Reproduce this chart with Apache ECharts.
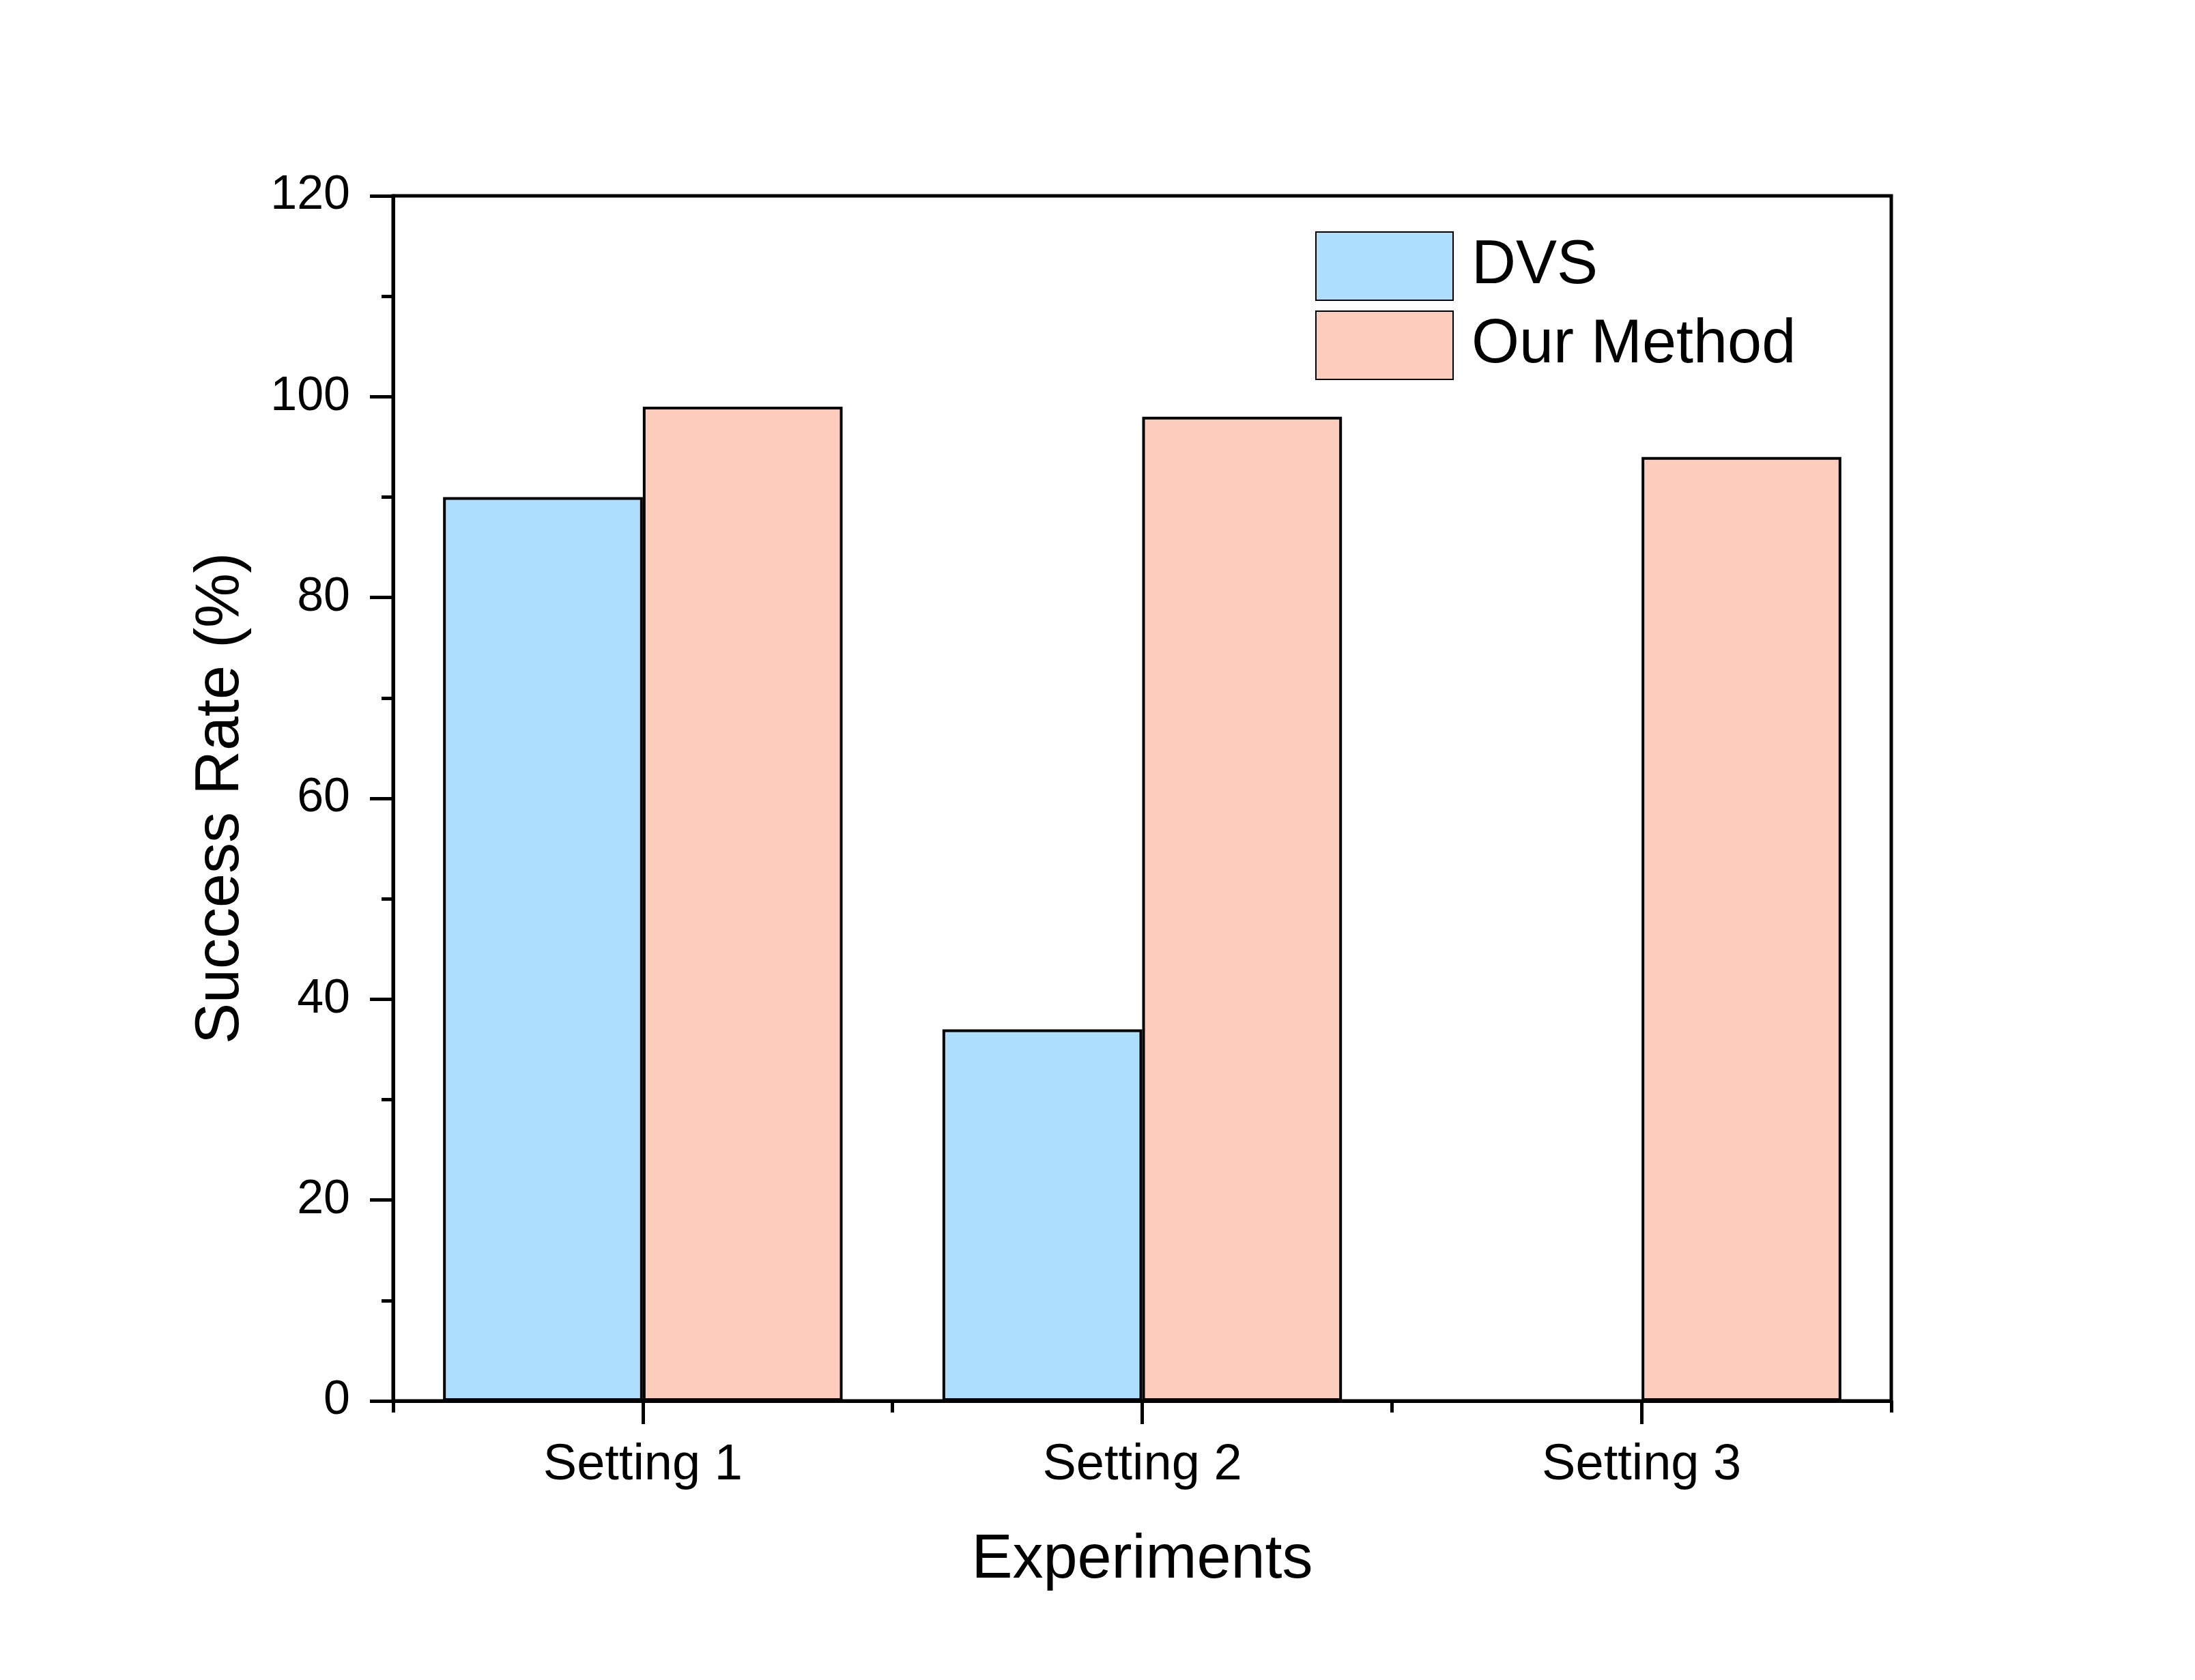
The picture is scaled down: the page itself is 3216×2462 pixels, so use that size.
<!DOCTYPE html>
<html>
<head>
<meta charset="utf-8">
<script src="https://cdn.jsdelivr.net/npm/echarts@6/dist/echarts.min.js"></script>
<style>
html,body{margin:0;padding:0;background:#fff;}
#c{width:3216px;height:2462px;}
</style>
</head>
<body>
<div id="c"></div>
<script>
const categories = ['Setting 1', 'Setting 2', 'Setting 3'];
const dvsValues = [90, 37, 0];
const ourValues = [99, 98, 94];
const seriesNames = ['DVS', 'Our Method'];
const yTicks = { min: 0, max: 120, interval: 20 };

const FONT = "'Liberation Sans', Arial, sans-serif";
const chart = echarts.init(document.getElementById('c'), null, { renderer: 'canvas' });

chart.setOption({
  backgroundColor: '#ffffff',
  animation: false,
  textStyle: { fontFamily: FONT, color: '#000' },
  grid: {
    left: 576, right: 445, top: 287, bottom: 409,
    show: true, borderColor: '#000', borderWidth: 5, backgroundColor: 'transparent'
  },
  legend: {
    orient: 'vertical',
    left: 1922, top: 334,
    itemWidth: 201, itemHeight: 100, itemGap: 14,
    icon: 'rect',
    data: seriesNames,
    textStyle: { fontSize: 90, fontFamily: FONT, color: '#000', padding: [0, 0, 0, 22] }
  },
  xAxis: [{
    type: 'category',
    data: categories,
    boundaryGap: true,
    name: 'Experiments',
    nameLocation: 'middle',
    nameGap: 189,
    nameTextStyle: { fontSize: 90, fontFamily: FONT, color: '#000' },
    axisLine: { show: true, lineStyle: { color: '#000', width: 5 } },
    axisTick: { show: true, alignWithLabel: true, length: 34, lineStyle: { color: '#000', width: 5 } },
    axisLabel: { fontSize: 74, fontFamily: FONT, color: '#000', margin: 58 },
    splitLine: { show: false }
  }, {
    type: 'category',
    data: categories,
    position: 'bottom',
    boundaryGap: true,
    axisLine: { show: false },
    axisTick: { show: true, alignWithLabel: false, length: 17, lineStyle: { color: '#000', width: 5 } },
    axisLabel: { show: false },
    splitLine: { show: false }
  }],
  yAxis: {
    type: 'value',
    min: yTicks.min, max: yTicks.max, interval: yTicks.interval,
    name: 'Success Rate (%)',
    nameLocation: 'middle',
    nameGap: 207,
    nameTextStyle: { fontSize: 90, fontFamily: FONT, color: '#000' },
    axisLine: { show: true, lineStyle: { color: '#000', width: 5 } },
    axisTick: { show: true, length: 34, lineStyle: { color: '#000', width: 5 } },
    minorTick: { show: true, splitNumber: 2, length: 17, lineStyle: { color: '#000', width: 5 } },
    axisLabel: { fontSize: 70, fontFamily: FONT, color: '#000', margin: 63 },
    splitLine: { show: false },
    minorSplitLine: { show: false }
  },
  series: [{
    name: seriesNames[0],
    type: 'bar',
    data: dvsValues,
    barGap: '0%',
    barCategoryGap: '20%',
    itemStyle: { color: '#ADDEFE', borderColor: '#000', borderWidth: 4 }
  }, {
    name: seriesNames[1],
    type: 'bar',
    data: ourValues,
    barGap: '0%',
    barCategoryGap: '20%',
    itemStyle: { color: '#FECDBD', borderColor: '#000', borderWidth: 4 }
  }]
});
</script>
</body>
</html>
